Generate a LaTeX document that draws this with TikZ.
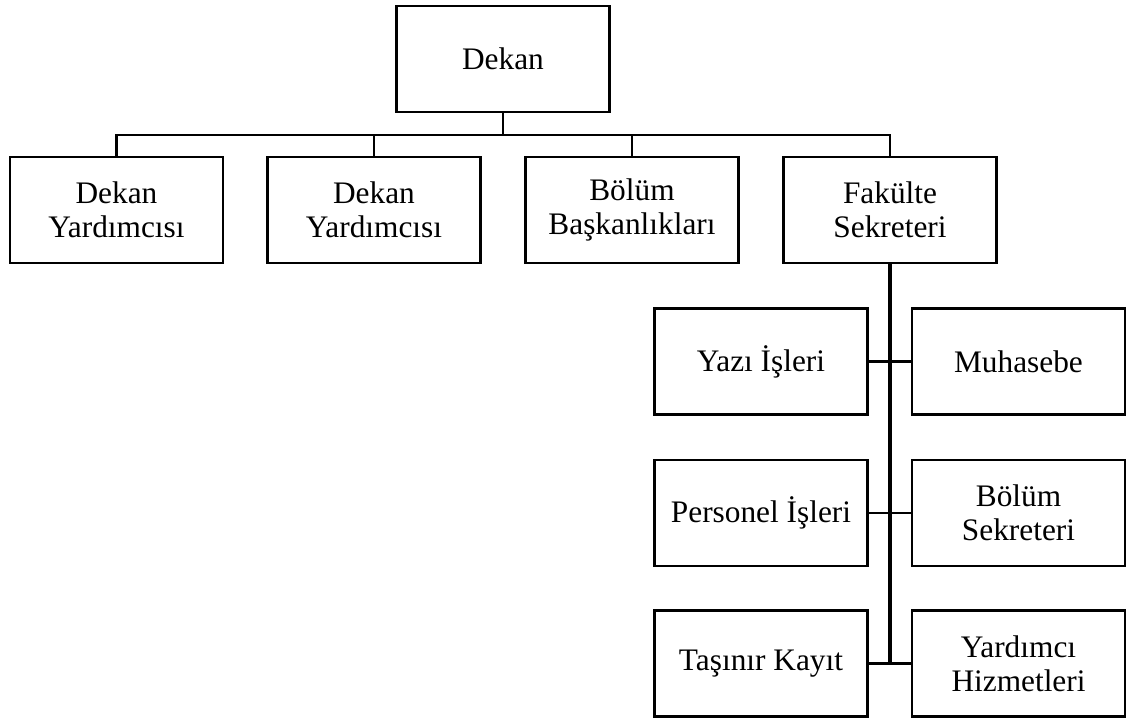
\documentclass[tikz,border=0pt]{standalone}
\usepackage{fontspec}
\setmainfont{Liberation Serif}
\begin{document}
\begin{tikzpicture}[x=0.75pt,y=-0.75pt]
\par
\tikzstyle{birim}=[draw, line width=1.9pt, minimum width=160pt, minimum height=79.5pt, inner sep=0pt, align=center, font=\fontsize{23.5}{25.5}\selectfont]
\tikzstyle{bag}=[line width=1.8pt]
\useasboundingbox (0,0) rectangle (1133,718) ;
\node[birim] (dekan) at (503,59) {Dekan} ;
\par
\node[birim] (yrd1) at (116.5,210) {Dekan\\Yardımcısı} ;
\node[birim] (yrd2) at (374,210) {Dekan\\Yardımcısı} ;
\node[birim] (bolbas) at (632,210) {Bölüm\\Başkanlıkları} ;
\node[birim] (fak) at (890,210) {Fakülte\\Sekreteri} ;
\par
\node[birim] (yazi) at (761,361.5) {Yazı İşleri} ;
\node[birim] (muh) at (1018.5,361.5) {Muhasebe} ;
\node[birim] (pers) at (761,513) {Personel İşleri} ;
\node[birim] (bolsek) at (1018.5,513) {Bölüm\\Sekreteri} ;
\node[birim] (tas) at (761,663.5) {Taşınır Kayıt} ;
\node[birim] (hiz) at (1018.5,663.5) {Yardımcı\\Hizmetleri} ;
\par
\coordinate (hat) at (503,135) ;
\draw[bag] (dekan.south) -- (hat) ;
\draw[bag] (yrd1.north) |- (hat) -| (fak.north) ;
\draw[bag] (yrd2.north) -- (yrd2.north |- hat) ;
\draw[bag] (bolbas.north) -- (bolbas.north |- hat) ;
\par
\draw[line width=2.4pt] (fak.south) -- (fak.south |- tas.east) ;
\draw[bag] (yazi.east) -- (muh.west) ;
\draw[bag] (pers.east) -- (bolsek.west) ;
\draw[bag] (tas.east) -- (hiz.west) ;
\par
\end{tikzpicture}
\end{document}
